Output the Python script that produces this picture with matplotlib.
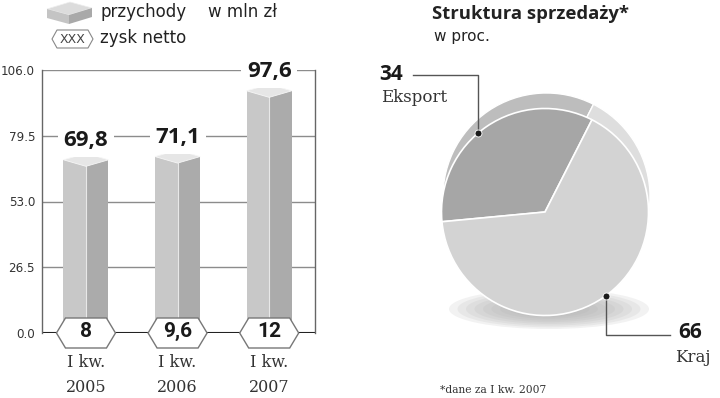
import matplotlib
matplotlib.use('Agg')
import matplotlib.pyplot as plt
from matplotlib.patches import Polygon, Ellipse
import numpy as np

# ---------------- data ----------------
years = ['2005', '2006', '2007']
period = 'I kw.'
revenue = [69.8, 71.1, 97.6]
profit = [8, 9.6, 12]
yticks = [0.0, 26.5, 53.0, 79.5, 106.0]
pie_labels = ['Eksport', 'Kraj']
pie_values = [34, 66]

W, H = 720, 398
fig = plt.figure(figsize=(7.2, 3.98), dpi=100)
fig.patch.set_facecolor('white')


def fx(x):
    return x / W


def fy(y):
    return 1 - y / H


def fmt(v):
    s = f"{v:g}"
    return s.replace('.', ',')


# ---------------- bar chart ----------------
L, R, T, B = 42, 315, 70, 333
ax = fig.add_axes([fx(L), fy(B), (R - L) / W, (B - T) / H])
ax.set_xlim(-0.48, 2.5)
ax.set_ylim(0, 106)
for s in ['top', 'bottom']:
    ax.spines[s].set_visible(False)
for s in ['left', 'right']:
    ax.spines[s].set_color('#666666')
    ax.spines[s].set_linewidth(1.0)
ax.set_xticks([])
ax.set_yticks(yticks)
ax.set_yticklabels([f"{t:.1f}" for t in yticks])
ax.tick_params(axis='y', length=0, pad=5, labelsize=8.6, labelcolor='#333333')
for t in yticks[1:]:
    ax.axhline(t, color='#8c8c8c', lw=1.0, zorder=0)
ax.axhline(0, color='#222222', lw=1.5, zorder=1)

px_x = (R - L) / 2.98          # pixels per x unit
px_y = (B - T) / 106.0         # pixels per y unit
bw = 45 / px_x
dtop = 6.5 / px_y
x = np.arange(len(years))

ax.bar(x - bw / 2, revenue, width=bw / 2, align='edge', color='#c8c8c8',
       edgecolor='none', zorder=2)
ax.bar(x, revenue, width=bw / 2, align='edge', color='#ababab',
       edgecolor='none', zorder=2)
for xi, v in zip(x, revenue):
    ax.plot([xi, xi], [0, v - dtop], color='#e8e8e8', lw=0.8, zorder=2.5)
    top = Polygon([(xi - bw / 2, v), (xi, v + dtop), (xi + bw / 2, v),
                   (xi, v - dtop)], closed=True, facecolor='#e6e6e6',
                  edgecolor='#f6f6f6', lw=0.6, zorder=3)
    ax.add_patch(top)
    ax.annotate(fmt(v), (xi, v + dtop), xytext=(0, 5), textcoords='offset points',
                ha='center', va='baseline', fontsize=16, fontweight='bold',
                family='Open Sans', color='#1a1a1a', zorder=4,
                bbox=dict(boxstyle='square,pad=0.25', fc='white', ec='none'))

# profit hexagons
hw = 59 / px_x / 2
tip = 9 / px_x
hh = 15 / px_y
for xi, p in zip(x, profit):
    hexa = Polygon([(xi - hw, 0), (xi - hw + tip, hh), (xi + hw - tip, hh),
                    (xi + hw, 0), (xi + hw - tip, -hh), (xi - hw + tip, -hh)],
                   closed=True, facecolor='white', edgecolor='#777777', lw=1.0,
                   zorder=5, clip_on=False)
    ax.add_patch(hexa)
    ax.text(xi, 0.5, fmt(p), ha='center', va='center', fontsize=15,
            fontweight='bold', family='Roboto', color='#1a1a1a', zorder=6,
            clip_on=False)
    ax.annotate(period, (xi, 0), xycoords=('data', 'axes fraction'),
                xytext=(0, -21.5), textcoords='offset points', ha='center',
                va='center', fontsize=11.5, family='DejaVu Serif', color='#333333')
    ax.annotate(years[xi], (xi, 0), xycoords=('data', 'axes fraction'),
                xytext=(0, -39.5), textcoords='offset points', ha='center',
                va='center', fontsize=11.5, family='DejaVu Serif', color='#333333')

# ---------------- pie chart ----------------
pcx, pcy, pr = 545, 212, 103.5
half = 130
pax = fig.add_axes([fx(pcx - half), fy(pcy + half), 2 * half / W, 2 * half / H])
scale = 100.0  # pixels per data unit
rad = pr / scale

# shadow
for k in range(9):
    f = 1 - k * 0.085
    pax.add_patch(Ellipse((0.04, -0.97), 2.0 * f, 0.40 * f, facecolor='#b0b0b0',
                          edgecolor='none', alpha=0.16, zorder=0))

pax.pie(pie_values, startangle=63, colors=['#bdbdbd', '#dedede'], radius=rad,
        center=(0.015, 0.155), wedgeprops=dict(edgecolor='white', linewidth=1.0))
pax.pie(pie_values, startangle=63, colors=['#a6a6a6', '#d3d3d3'], radius=rad,
        center=(0, 0), wedgeprops=dict(edgecolor='white', linewidth=1.2))
pax.set_xlim(-half / scale, half / scale)
pax.set_ylim(-half / scale, half / scale)
pax.set_aspect('equal')
pax.axis('off')

# ---------------- overlay (texts, legend, leaders) ----------------
ov = fig.add_axes([0, 0, 1, 1], zorder=10)
ov.set_xlim(0, W)
ov.set_ylim(H, 0)
ov.patch.set_alpha(0)
ov.axis('off')

# legend: slab icon
ov.add_patch(Polygon([(47, 9), (70, 2), (92, 8), (69, 15)], closed=True,
                     facecolor='#dcdcdc', edgecolor='#eeeeee', lw=0.5))
ov.add_patch(Polygon([(47, 9), (69, 15), (69, 24), (47, 18)], closed=True,
                     facecolor='#c4c4c4', edgecolor='none'))
ov.add_patch(Polygon([(69, 15), (92, 8), (92, 17), (69, 24)], closed=True,
                     facecolor='#a9a9a9', edgecolor='none'))
ov.text(100, 12, 'przychody', ha='left', va='center', fontsize=12,
        family='DejaVu Sans', color='#222222')
ov.text(208, 12, 'w mln zł', ha='left', va='center', fontsize=12,
        family='DejaVu Sans', color='#222222')
# legend: hexagon
ov.add_patch(Polygon([(52, 39), (57, 30), (88, 30), (93, 39), (88, 48), (57, 48)],
                     closed=True, facecolor='white', edgecolor='#888888', lw=0.8))
ov.text(72.5, 39.5, 'XXX', ha='center', va='center', fontsize=9,
        family='DejaVu Sans', color='#444444')
ov.text(100, 38, 'zysk netto', ha='left', va='center', fontsize=12,
        family='DejaVu Sans', color='#222222')

# pie titles
ov.text(432, 14, 'Struktura sprzedaży*', ha='left', va='center', fontsize=13.3,
        fontweight='bold', family='Open Sans', color='#222222')
ov.text(434, 37, 'w proc.', ha='left', va='center', fontsize=11,
        family='DejaVu Sans', color='#222222')

# leader lines and dots
anchor_angles = [130, -54]
label_pos = [((391, 75), (414, 97)), ((690, 333), (693, 357))]
dots = [(pcx + pr * np.cos(np.radians(a)), pcy - pr * np.sin(np.radians(a)))
        for a in anchor_angles]
(d1x, d1y), (d2x, d2y) = dots
ov.plot([413, d1x, d1x], [75, 75, d1y], color='#555555', lw=1.0)
ov.plot([d2x, d2x, 670], [d2y, 335, 335], color='#555555', lw=1.0)
for dx, dy in dots:
    ov.plot(dx, dy, 'o', color='#1a1a1a', ms=5, mec='white', mew=0.6)

for (vpos, lpos), v, lab in zip(label_pos, pie_values, pie_labels):
    ov.text(vpos[0], vpos[1], str(v), ha='center', va='center', fontsize=15,
            fontweight='bold', family='Open Sans', color='#1a1a1a')
    ov.text(lpos[0], lpos[1], lab, ha='center', va='center', fontsize=12,
            family='DejaVu Serif', color='#333333')

ov.text(440, 390, '*dane za I kw. 2007', ha='left', va='center', fontsize=7.7,
        family='DejaVu Serif', color='#333333')

fig.savefig('out.png', dpi=100, facecolor='white')
